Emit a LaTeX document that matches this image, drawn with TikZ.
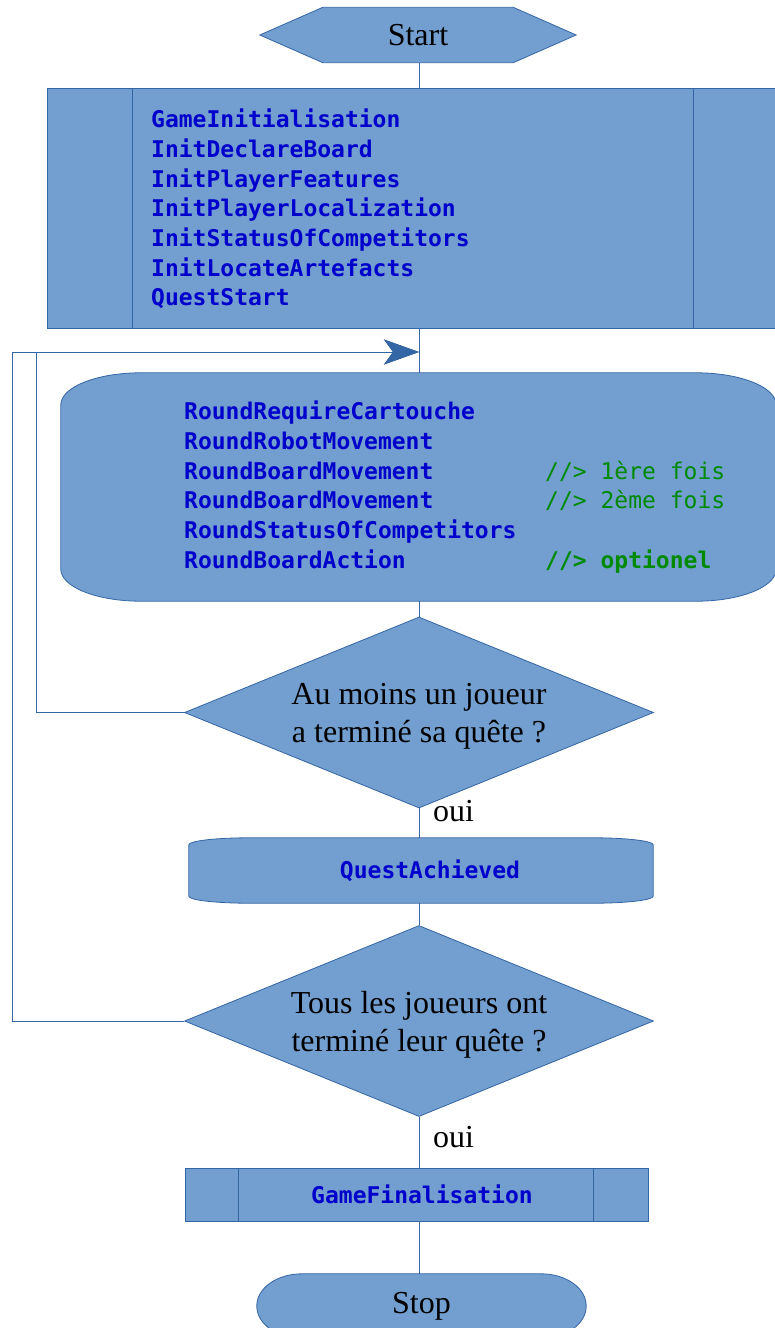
\documentclass[tikz,border=0pt]{standalone}
\usepackage{fontspec}
\setmainfont{Liberation Serif}
\setmonofont{DejaVu Sans Mono}
\usetikzlibrary{shapes.geometric,arrows.meta,backgrounds}

\definecolor{chartfill}{HTML}{729FCF}
\definecolor{chartline}{HTML}{3465A4}
\definecolor{callblue}{HTML}{0000CC}
\definecolor{notegreen}{HTML}{008A00}

\newcommand{\codenote}[2]{\makebox[361pt][l]{#1}\textcolor{notegreen}{#2}}
\newcommand{\ovaloutline}[3]{%
  \filldraw[chartbox] ([xshift=#2]#1.north west) -- ([xshift=-#2]#1.north east)
    arc[start angle=90, end angle=0, x radius=#2, y radius=#3]
    -- ([yshift=#3]#1.south east)
    arc[start angle=0, end angle=-90, x radius=#2, y radius=#3]
    -- ([xshift=#2]#1.south west)
    arc[start angle=270, end angle=180, x radius=#2, y radius=#3]
    -- ([yshift=-#3]#1.north west)
    arc[start angle=180, end angle=90, x radius=#2, y radius=#3] -- cycle;}

\tikzset{
  chartbox/.style={draw=chartline, fill=chartfill, line width=0.8pt},
  flow/.style={draw=chartline, line width=0.8pt},
  loopback/.style={flow, -{Stealth[length=35pt, width=25pt, inset=9pt]}},
  serif/.style={font=\fontsize{32}{38}\selectfont, align=center, inner sep=0pt},
  code/.style={font=\ttfamily\bfseries\fontsize{23}{29.7}\selectfont, text=callblue, align=left, inner sep=0pt},
}

\begin{document}
\begin{tikzpicture}[x=1pt, y=1pt]
\useasboundingbox (0,0) rectangle (774,-1328);
\coordinate (spine) at (419,0);

\node[serif, minimum width=316, minimum height=55] (start) at (418,-35) {\raisebox{-3pt}{Start}};

\node[chartbox, minimum width=733, minimum height=240] (init) at (413.5,-208) {};
\draw[flow] ([xshift=86]init.north west) -- ([xshift=86]init.south west)
  ([xshift=-87]init.north east) -- ([xshift=-87]init.south east);
\node[code, anchor=west] (initTxt) at (151,-209) {GameInitialisation\\InitDeclareBoard\\InitPlayerFeatures\\InitPlayerLocalization\\InitStatusOfCompetitors\\InitLocateArtefacts\\QuestStart};

\node[minimum width=715, minimum height=228] (loopbody) at (418.5,-487) {};
\node[code, anchor=west] (loopTxt) at (184,-487) {RoundRequireCartouche\\RoundRobotMovement\\\codenote{RoundBoardMovement}{\mdseries//> 1ère fois}\\\codenote{RoundBoardMovement}{\mdseries//> 2ème fois}\\RoundStatusOfCompetitors\\\codenote{RoundBoardAction}{//> optionel}};

\node[chartbox, diamond, aspect=2.455, minimum width=469, minimum height=191, serif, text depth=0pt] (q1) at (419,-712.5) {Au moins un joueur\\a terminé sa quête ?};
\node[serif, anchor=west] (yes1) at (433,-811) {oui};

\node[code, minimum width=464, minimum height=65] (quest) at (421,-870.5) {\hspace*{18pt}QuestAchieved};

\node[chartbox, diamond, aspect=2.455, minimum width=469, minimum height=191, serif, text depth=0pt] (q2) at (419,-1021) {Tous les joueurs ont\\terminé leur quête ?};
\node[serif, anchor=west] (yes2) at (433,-1137) {oui};

\node[chartbox, code, minimum width=463, minimum height=53] (fin) at (416.5,-1194.5) {\hspace*{11pt}GameFinalisation};
\draw[flow] ([xshift=54]fin.north west) -- ([xshift=54]fin.south west)
  ([xshift=-55]fin.north east) -- ([xshift=-55]fin.south east);

\node[serif, minimum width=329, minimum height=64] (stop) at (421.5,-1306) {\raisebox{-3pt}{Stop}};

\begin{scope}[on background layer]
  \filldraw[chartbox] (start.west) -- ([xshift=63]start.north west) -- ([xshift=-63]start.north east)
    -- (start.east) -- ([xshift=-63]start.south east) -- ([xshift=63]start.south west) -- cycle;
  \ovaloutline{loopbody}{80}{32}
  \ovaloutline{quest}{60}{7}
  \ovaloutline{stop}{45}{32}
\end{scope}

\draw[flow] (start.south -| spine) -- (init.north -| spine);
\draw[flow] (init.south -| spine) -- (loopbody.north -| spine);
\draw[flow] (loopbody.south -| spine) -- (q1.north);
\draw[flow] (q1.south) -- (quest.north -| spine);
\draw[flow] (quest.south -| spine) -- (q2.north);
\draw[flow] (q2.south) -- (fin.north -| spine);
\draw[flow] (fin.south -| spine) -- (stop.north -| spine);

\coordinate (back) at (419,-352);
\draw[loopback] (q1.west) -- ++(-148,0) |- (back);
\draw[loopback] (q2.west) -- ++(-172,0) |- (back);
\end{tikzpicture}
\end{document}
